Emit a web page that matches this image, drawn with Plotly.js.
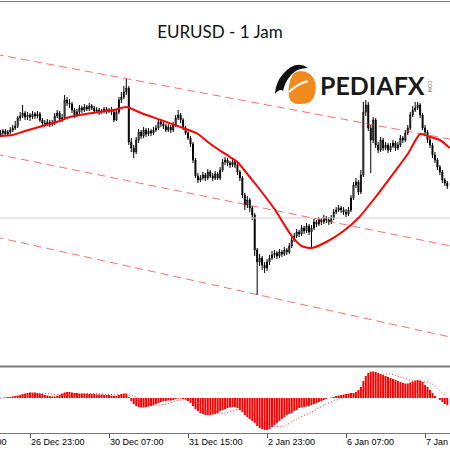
<!DOCTYPE html>
<html><head><meta charset="utf-8">
<script src="https://cdn.plot.ly/plotly-3.0.1.min.js"></script>
<style>html,body{margin:0;padding:0;background:#fff}#chart{width:450px;height:450px}</style>
</head><body><div id="chart"></div>
<script>
// ---- data (hourly EURUSD bars) ----
const barCount = 182;
const tickBars = [12, 44, 76, 108, 140, 172];
const tickLabels = ['26 Dec 23:00', '30 Dec 07:00', '31 Dec 15:00', '2 Jan 23:00', '6 Jan 07:00', '7 Jan 15:00'];
const hiddenLeftLabel = '25 Dec 15:00';

const openPrice = [
1.12325,1.12335,1.12345,1.12330,1.12340,1.12350,1.12360,1.12370,1.12410,1.12420,
1.12435,1.12415,1.12425,1.12415,1.12430,1.12420,1.12430,1.12400,1.12385,1.12380,
1.12390,1.12380,1.12385,1.12420,1.12435,1.12405,1.12410,1.12500,1.12485,1.12480,
1.12450,1.12425,1.12440,1.12460,1.12450,1.12465,1.12455,1.12470,1.12460,1.12445,
1.12450,1.12440,1.12445,1.12455,1.12445,1.12450,1.12440,1.12400,1.12440,1.12500,
1.12515,1.12540,1.12560,1.12290,1.12260,1.12240,1.12300,1.12340,1.12320,1.12350,
1.12330,1.12345,1.12335,1.12350,1.12360,1.12390,1.12380,1.12370,1.12350,1.12365,
1.12350,1.12375,1.12410,1.12425,1.12400,1.12360,1.12335,1.12310,1.12280,1.12200,
1.12120,1.12100,1.12110,1.12125,1.12110,1.12140,1.12120,1.12110,1.12130,1.12110,
1.12150,1.12190,1.12200,1.12185,1.12175,1.12190,1.12175,1.12140,1.12110,1.12025,
1.11975,1.12000,1.11960,1.11925,1.11750,1.11690,1.11710,1.11675,1.11660,1.11690,
1.11710,1.11725,1.11735,1.11720,1.11740,1.11730,1.11750,1.11740,1.11770,1.11800,
1.11820,1.11840,1.11830,1.11860,1.11845,1.11870,1.11840,1.11860,1.11890,1.11880,
1.11900,1.11890,1.11910,1.11900,1.11890,1.11910,1.11940,1.11950,1.11960,1.11950,
1.11940,1.11930,1.11950,1.12010,1.12075,1.12090,1.12040,1.12125,1.12440,1.12475,
1.12360,1.12300,1.12400,1.12275,1.12250,1.12300,1.12260,1.12275,1.12250,1.12270,
1.12285,1.12260,1.12275,1.12310,1.12300,1.12335,1.12360,1.12425,1.12450,1.12460,
1.12475,1.12425,1.12360,1.12340,1.12300,1.12275,1.12225,1.12200,1.12165,1.12140,
1.12100,1.12085];

const highPrice = [
1.12350,1.12355,1.12355,1.12350,1.12365,1.12375,1.12395,1.12420,1.12440,1.12475,
1.12445,1.12440,1.12435,1.12445,1.12440,1.12445,1.12440,1.12410,1.12400,1.12405,
1.12400,1.12400,1.12435,1.12450,1.12445,1.12430,1.12525,1.12515,1.12505,1.12490,
1.12460,1.12455,1.12475,1.12470,1.12480,1.12475,1.12485,1.12480,1.12470,1.12465,
1.12460,1.12455,1.12465,1.12465,1.12460,1.12465,1.12450,1.12455,1.12515,1.12540,
1.12570,1.12605,1.12570,1.12310,1.12275,1.12315,1.12355,1.12350,1.12365,1.12360,
1.12360,1.12355,1.12365,1.12375,1.12405,1.12400,1.12390,1.12380,1.12380,1.12375,
1.12390,1.12425,1.12450,1.12435,1.12410,1.12370,1.12345,1.12320,1.12290,1.12210,
1.12135,1.12125,1.12140,1.12135,1.12155,1.12150,1.12135,1.12145,1.12140,1.12165,
1.12205,1.12215,1.12210,1.12195,1.12205,1.12200,1.12185,1.12150,1.12120,1.12035,
1.12020,1.12010,1.11970,1.11935,1.11760,1.11730,1.11720,1.11690,1.11705,1.11725,
1.11745,1.11750,1.11745,1.11755,1.11750,1.11765,1.11760,1.11785,1.11815,1.11835,
1.11855,1.11850,1.11875,1.11870,1.11885,1.11880,1.11875,1.11905,1.11900,1.11915,
1.11910,1.11925,1.11920,1.11915,1.11925,1.11955,1.11965,1.11975,1.11970,1.11965,
1.11955,1.11965,1.12025,1.12090,1.12110,1.12100,1.12150,1.12490,1.12500,1.12490,
1.12375,1.12415,1.12410,1.12290,1.12315,1.12310,1.12290,1.12285,1.12285,1.12300,
1.12295,1.12290,1.12325,1.12320,1.12350,1.12375,1.12440,1.12470,1.12490,1.12490,
1.12485,1.12435,1.12375,1.12350,1.12315,1.12285,1.12240,1.12210,1.12175,1.12150,
1.12110,1.12095];

const lowPrice = [
1.12315,1.12325,1.12320,1.12320,1.12330,1.12340,1.12350,1.12360,1.12395,1.12410,
1.12400,1.12400,1.12395,1.12405,1.12405,1.12410,1.12390,1.12370,1.12365,1.12370,
1.12365,1.12370,1.12375,1.12410,1.12390,1.12390,1.12400,1.12470,1.12460,1.12435,
1.12410,1.12415,1.12430,1.12435,1.12440,1.12445,1.12445,1.12450,1.12435,1.12435,
1.12425,1.12430,1.12435,1.12430,1.12435,1.12425,1.12390,1.12395,1.12430,1.12485,
1.12505,1.12525,1.12275,1.12240,1.12210,1.12230,1.12285,1.12305,1.12310,1.12315,
1.12320,1.12320,1.12325,1.12340,1.12350,1.12365,1.12355,1.12340,1.12340,1.12335,
1.12340,1.12365,1.12400,1.12385,1.12350,1.12325,1.12300,1.12265,1.12185,1.12110,
1.12085,1.12090,1.12100,1.12095,1.12100,1.12110,1.12095,1.12100,1.12100,1.12100,
1.12140,1.12175,1.12170,1.12160,1.12165,1.12160,1.12125,1.12095,1.12010,1.11950,
1.11960,1.11940,1.11900,1.11720,1.11525,1.11670,1.11650,1.11635,1.11645,1.11675,
1.11700,1.11710,1.11705,1.11710,1.11715,1.11720,1.11725,1.11730,1.11760,1.11790,
1.11810,1.11815,1.11820,1.11830,1.11835,1.11825,1.11760,1.11850,1.11865,1.11870,
1.11875,1.11880,1.11885,1.11875,1.11880,1.11900,1.11930,1.11940,1.11935,1.11925,
1.11915,1.11920,1.11940,1.12000,1.12060,1.12025,1.12030,1.12115,1.12420,1.12345,
1.12135,1.12285,1.12260,1.12235,1.12240,1.12245,1.12250,1.12235,1.12240,1.12260,
1.12245,1.12250,1.12265,1.12285,1.12290,1.12325,1.12350,1.12415,1.12440,1.12450,
1.12410,1.12350,1.12325,1.12285,1.12260,1.12210,1.12185,1.12150,1.12125,1.12085,
1.12070,1.12055];

const closePrice = [
1.12335,1.12345,1.12330,1.12340,1.12350,1.12360,1.12370,1.12410,1.12420,1.12435,
1.12415,1.12425,1.12415,1.12430,1.12420,1.12430,1.12400,1.12385,1.12380,1.12390,
1.12380,1.12385,1.12420,1.12435,1.12405,1.12410,1.12500,1.12485,1.12480,1.12450,
1.12425,1.12440,1.12460,1.12450,1.12465,1.12455,1.12470,1.12460,1.12445,1.12450,
1.12440,1.12445,1.12455,1.12445,1.12450,1.12440,1.12400,1.12440,1.12500,1.12515,
1.12540,1.12560,1.12290,1.12260,1.12240,1.12300,1.12340,1.12320,1.12350,1.12330,
1.12345,1.12335,1.12350,1.12360,1.12390,1.12380,1.12370,1.12350,1.12365,1.12350,
1.12375,1.12410,1.12425,1.12400,1.12360,1.12335,1.12310,1.12280,1.12200,1.12120,
1.12100,1.12110,1.12125,1.12110,1.12140,1.12120,1.12110,1.12130,1.12110,1.12150,
1.12190,1.12200,1.12185,1.12175,1.12190,1.12175,1.12140,1.12110,1.12025,1.11975,
1.12000,1.11960,1.11925,1.11750,1.11690,1.11710,1.11675,1.11660,1.11690,1.11710,
1.11725,1.11735,1.11720,1.11740,1.11730,1.11750,1.11740,1.11770,1.11800,1.11820,
1.11840,1.11830,1.11860,1.11845,1.11870,1.11840,1.11860,1.11890,1.11880,1.11900,
1.11890,1.11910,1.11900,1.11890,1.11910,1.11940,1.11950,1.11960,1.11950,1.11940,
1.11930,1.11950,1.12010,1.12075,1.12090,1.12040,1.12125,1.12440,1.12475,1.12360,
1.12300,1.12400,1.12275,1.12250,1.12300,1.12260,1.12275,1.12250,1.12270,1.12285,
1.12260,1.12275,1.12310,1.12300,1.12335,1.12360,1.12425,1.12450,1.12460,1.12475,
1.12425,1.12360,1.12340,1.12300,1.12275,1.12225,1.12200,1.12165,1.12140,1.12100,
1.12085,1.12070];

// moving average (red line), read at selected bars
const maBars = [0,5,10,17,24,28,32,40,47,51,57,65,74,80,84,88,93,96,101,103,111,118,122,126,132,139,145,152,159,165,170,173,178,182];
const maValues = [1.12320,1.12325,1.12345,1.12370,1.12395,1.12415,1.12425,1.12440,1.12453,1.12465,1.12435,1.12400,1.12360,1.12330,1.12290,1.12255,1.12215,1.12190,1.12115,1.12085,1.11955,1.11820,1.11770,1.11760,1.11790,1.11845,1.11910,1.12015,1.12130,1.12230,1.12330,1.12320,1.12300,1.12260];

// regression channel (dashed), end points
const channelBars = [-2, 184];
const channelUpper = [1.12729, 1.12300];
const channelMiddle = [1.12230, 1.11766];
const channelLower = [1.11815, 1.11310];
const bidLevel = 1.11910;

// MACD histogram per bar and its signal line
const macdMain = [
0,0,0.00001,0.00002,0.00002,0.00003,
0.00004,0.00005,0.00006,0.00008,0.00009,0.00010,0.00011,0.00011,
0.00011,0.00010,0.00009,0.00008,0.00006,
0.00005,0.00004,0.00003,0.00003,0.00004,0.00006,
0.00009,0.00011,0.00012,0.00012,0.00011,0.00010,
0.00010,0.00009,0.00009,0.00009,0.00008,0.00008,0.00008,0.00008,0.00007,0.00007,0.00007,0.00006,0.00006,0.00006,0.00005,0.00004,0.00004,0.00006,0.00008,0.00009,
0.00009,0.00002,-0.00006,-0.00012,
-0.00016,-0.00018,-0.00019,-0.00019,-0.00018,-0.00017,
-0.00016,-0.00014,-0.00012,-0.00010,-0.00008,-0.00006,
-0.00006,-0.00005,-0.00005,-0.00004,-0.00002,-0.00001,-0.00001,
-0.00002,-0.00003,-0.00006,-0.00010,
-0.00016,-0.00022,-0.00026,-0.00030,-0.00032,-0.00034,-0.00034,-0.00034,
-0.00033,-0.00032,-0.00030,-0.00026,-0.00024,-0.00022,
-0.00020,-0.00019,-0.00018,-0.00018,-0.00020,
-0.00024,-0.00028,-0.00034,-0.00038,-0.00042,-0.00046,-0.00050,-0.00056,
-0.00060,-0.00062,-0.00064,-0.00064,-0.00062,-0.00058,
-0.00054,-0.00050,-0.00046,-0.00042,-0.00038,
-0.00034,-0.00032,-0.00030,-0.00026,-0.00024,-0.00020,
-0.00019,-0.00018,-0.00017,-0.00016,-0.00014,-0.00012,
-0.00010,-0.00008,-0.00006,-0.00004,-0.00002,0,
0.00001,0.00002,0.00004,0.00005,0.00006,0.00007,0.00008,
0.00009,0.00010,0.00010,0.00012,0.00016,
0.00022,0.00034,0.00044,0.00050,0.00053,
0.00053,0.00052,0.00050,0.00048,0.00046,
0.00044,0.00042,0.00040,0.00038,0.00036,
0.00034,0.00032,0.00030,0.00029,
0.00029,0.00031,0.00033,0.00035,0.00036,0.00035,
0.00032,0.00026,0.00022,0.00016,0.00010,
0.00004,0,-0.00004,-0.00008,-0.00012,-0.00014];
const signalBars = [0,6,12,18,24,30,36,42,48,54,60,66,72,78,84,90,96,102,108,114,120,126,132,138,144,150,156,162,168,174,180];
const signalValues = [0,0.00002,0.00006,0.00009,0.00006,0.00007,0.00009,0.00008,0.00006,0.00004,-0.00014,-0.00013,-0.00005,-0.00005,-0.00023,-0.00031,-0.00023,-0.00032,-0.00052,-0.00057,-0.00042,-0.00028,-0.00012,-0.00001,0.00006,0.00026,0.00048,0.00042,0.00033,0.00030,0.00005];

// ---- build chart ----
const bars = Array.from({length: barCount}, (_, i) => i);
const chanStyle = {color: 'rgba(255,50,50,0.7)', width: 1, dash: '8px,5px'};
const traces = [
  {type:'scatter', mode:'lines', x:[channelBars[0], channelBars[1]], y:[bidLevel, bidLevel], line:{color:'#cfcfcf', width:1}, hoverinfo:'skip'},
  {type:'candlestick', x:bars, open:openPrice, high:highPrice, low:lowPrice, close:closePrice,
   increasing:{line:{color:'#000', width:1}, fillcolor:'#ffffff'},
   decreasing:{line:{color:'#000', width:1}, fillcolor:'#000000'},
   whiskerwidth:0, hoverinfo:'skip'},
  {type:'scatter', mode:'lines', x:channelBars, y:channelUpper, line:chanStyle, hoverinfo:'skip'},
  {type:'scatter', mode:'lines', x:channelBars, y:channelMiddle, line:chanStyle, hoverinfo:'skip'},
  {type:'scatter', mode:'lines', x:channelBars, y:channelLower, line:chanStyle, hoverinfo:'skip'},
  {type:'scatter', mode:'lines', x:maBars, y:maValues, line:{color:'#ff0000', width:2, shape:'spline', smoothing:0.6}, hoverinfo:'skip'},
  {type:'bar', x:bars, y:macdMain, yaxis:'y2', marker:{color:'#ff0000', line:{width:0}}, hoverinfo:'skip'},
  {type:'scatter', mode:'lines', x:signalBars, y:signalValues, yaxis:'y2', line:{color:'#ff3030', width:1, dash:'1px,2px', shape:'spline'}, hoverinfo:'skip'}
];

const H = 433; // plot area height in px
const logoSvg = '<svg xmlns="http://www.w3.org/2000/svg" viewBox="0 0 50 46" width="50" height="46">' +
  '<path d="M23,12 Q30,6 40,12 Q48,19 45,32 Q43,42 31,42 Q21,43 19,35 Q17,23 23,12 Z" fill="#f28a1e"/>' +
  '<path d="M19,30 Q27,22 38,19" stroke="#ffffff" stroke-width="2" fill="none"/>' +
  '<path d="M5,32 Q6,15 21,5 Q30,0 38,6 Q27,6 21,13 Q15,20 13,29 Q10,26 5,32 Z" fill="#111"/>' +
  '</svg>';

const tickAnnotations = tickBars.map((b, k) => ({
  text: tickLabels[k], xref:'x', yref:'paper', x:b, y:-(441.5-H)/H, xanchor:'left', yanchor:'middle',
  showarrow:false, xshift:-1, font:{family:'Liberation Sans, Arial, sans-serif', size:9, color:'#000'}
}));

const layout = {
  width:450, height:450,
  margin:{l:0, r:0, t:0, b:17, pad:0},
  paper_bgcolor:'#ffffff', plot_bgcolor:'#ffffff',
  showlegend:false,
  title:{text:'EURUSD - 1 Jam', x:220/450, xanchor:'center', y:1-32/450, yanchor:'middle',
         font:{family:'Comic Sans MS, Lato, sans-serif', size:17, color:'#111'}},
  xaxis:{range:[-0.162, 182.1], anchor:'y2', tickmode:'array', tickvals:tickBars, ticktext:tickLabels,
         showticklabels:false,
         ticks:'outside', ticklen:4, tickcolor:'#555', showline:true, linecolor:'#777', linewidth:1,
         showgrid:false, zeroline:false,
         rangeslider:{visible:false}, fixedrange:true},
  yaxis:{domain:[(H-366)/H, (H-3)/H], range:[1.11170, 1.12985], visible:false, fixedrange:true},
  yaxis2:{domain:[0, (H-369)/H], range:[-0.00070, 0.00058], visible:false, fixedrange:true},
  bargap:0.2, boxgap:0.45,
  shapes:[
    {type:'line', xref:'paper', yref:'paper', x0:0, x1:1, y0:(H-1.5)/H, y1:(H-1.5)/H, line:{color:'#808080', width:1}},
    {type:'line', xref:'paper', yref:'paper', x0:0, x1:1, y0:(H-366.5)/H, y1:(H-366.5)/H, line:{color:'#7a7a7a', width:2}}
  ],
  images:[{source:'data:image/svg+xml;utf8,' + encodeURIComponent(logoSvg), xref:'paper', yref:'paper',
           x:270/450, y:(H-62)/H, sizex:50/450, sizey:46/H, xanchor:'left', yanchor:'top', sizing:'stretch', layer:'above'}],
  annotations:[
    {text:'<b>PEDIAFX</b>', xref:'paper', yref:'paper', x:372/450, y:(H-85)/H, xanchor:'center', yanchor:'middle', showarrow:false,
     font:{family:'Lato, sans-serif', size:25, color:'#1a1a1a'}},
    {text:'.COM', xref:'paper', yref:'paper', x:430/450, y:(H-85)/H, xanchor:'center', yanchor:'middle', showarrow:false, textangle:90,
     font:{family:'Liberation Sans, sans-serif', size:5, color:'#666'}},
    {text:hiddenLeftLabel, xref:'paper', yref:'paper', x:-49/450, y:-(441.5-H)/H, xanchor:'left', yanchor:'middle', showarrow:false,
     font:{family:'Liberation Sans, Arial, sans-serif', size:9, color:'#000'}}
  ].concat(tickAnnotations)
};
Plotly.newPlot('chart', traces, layout, {staticPlot:true, displayModeBar:false});
</script>
</body></html>
